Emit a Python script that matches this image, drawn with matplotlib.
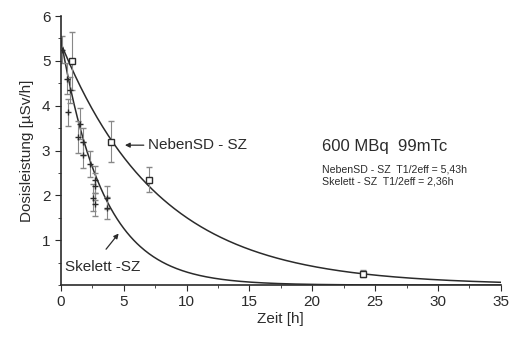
import numpy as np
import matplotlib
matplotlib.use("Agg")
import matplotlib.pyplot as plt
from matplotlib.ticker import MultipleLocator

plt.rcParams['font.family'] = ['Liberation Sans', 'DejaVu Sans']

# NebenSD - SZ measurements
neben_t = [0.9, 4.0, 7.0, 24.0]
neben_y = [5.0, 3.2, 2.35, 0.25]
neben_err = [0.65, 0.45, 0.28, 0.08]

# Skelett - SZ measurements
skel_t = [0.1, 0.5, 0.7, 0.6, 1.5, 1.35, 1.8, 1.8, 2.3, 2.7, 2.7, 2.6, 2.7, 3.7, 3.7]
skel_y = [5.25, 4.6, 4.35, 3.85, 3.6, 3.3, 3.2, 2.9, 2.7, 2.35, 2.2, 1.95, 1.8, 1.95, 1.72]
skel_err = [0.3, 0.35, 0.3, 0.3, 0.35, 0.35, 0.3, 0.3, 0.3, 0.3, 0.3, 0.3, 0.25, 0.25, 0.25]

# fitted curves
neben_a0, neben_half = 5.4, 5.43
skel_a0, skel_half = 5.5, 2.36

ink = '#2b2b2b'

fig = plt.figure(figsize=(5.11, 3.41), dpi=100)
ax = fig.add_axes([0.119, 0.164, 0.861, 0.789])

t = np.linspace(0, 35, 400)
ax.plot(t, neben_a0 * np.exp(-np.log(2) * t / neben_half), color=ink, lw=1.1)
ax.plot(t, skel_a0 * np.exp(-np.log(2) * t / skel_half), color=ink, lw=1.1)

ax.errorbar(neben_t, neben_y, yerr=neben_err, fmt='s', ms=4, mfc='white', mec=ink,
            ecolor='#888888', elinewidth=0.8, capsize=2.5, color=ink)
ax.errorbar(skel_t, skel_y, yerr=skel_err, fmt='+', ms=4, mec=ink,
            ecolor='#888888', elinewidth=0.8, capsize=2, color=ink)

ax.set_xlim(0, 35)
ax.set_ylim(0, 6)
ax.xaxis.set_major_locator(MultipleLocator(5))
ax.xaxis.set_minor_locator(MultipleLocator(2.5))
ax.yaxis.set_major_locator(MultipleLocator(1))
ax.yaxis.set_minor_locator(MultipleLocator(0.5))
ax.set_yticks([1, 2, 3, 4, 5, 6])
for s in ['top', 'right']:
    ax.spines[s].set_visible(False)
for s in ['left', 'bottom']:
    ax.spines[s].set_color(ink)
    ax.spines[s].set_linewidth(1.2)
ax.tick_params(which='both', direction='out', colors=ink, labelsize=11)
ax.tick_params(which='major', length=4)
ax.tick_params(which='minor', length=2.5)

ax.set_xlabel('Zeit [h]', fontsize=11, color=ink, labelpad=2)
ax.set_ylabel('Dosisleistung [µSv/h]', fontsize=11, color=ink, labelpad=6)

arrow = dict(arrowstyle='-|>', color=ink, lw=0.9, mutation_scale=7,
             shrinkA=0, shrinkB=0)
ax.text(6.9, 3.12, 'NebenSD - SZ', fontsize=11, color=ink, va='center')
ax.annotate('', xy=(5.1, 3.12), xytext=(6.6, 3.12), arrowprops=arrow)
ax.text(0.3, 0.4, 'Skelett -SZ', fontsize=11, color=ink, va='center')
ax.annotate('', xy=(4.6, 1.15), xytext=(3.6, 0.8), arrowprops=arrow)

ax.text(20.8, 3.1, '600 MBq  99mTc', fontsize=12, color=ink, va='center')
ax.text(20.8, 2.58, 'NebenSD - SZ  T1/2eff = 5,43h', fontsize=7.6, color=ink, va='center')
ax.text(20.8, 2.3, 'Skelett - SZ  T1/2eff = 2,36h', fontsize=7.6, color=ink, va='center')

fig.savefig('out.png', dpi=100)
